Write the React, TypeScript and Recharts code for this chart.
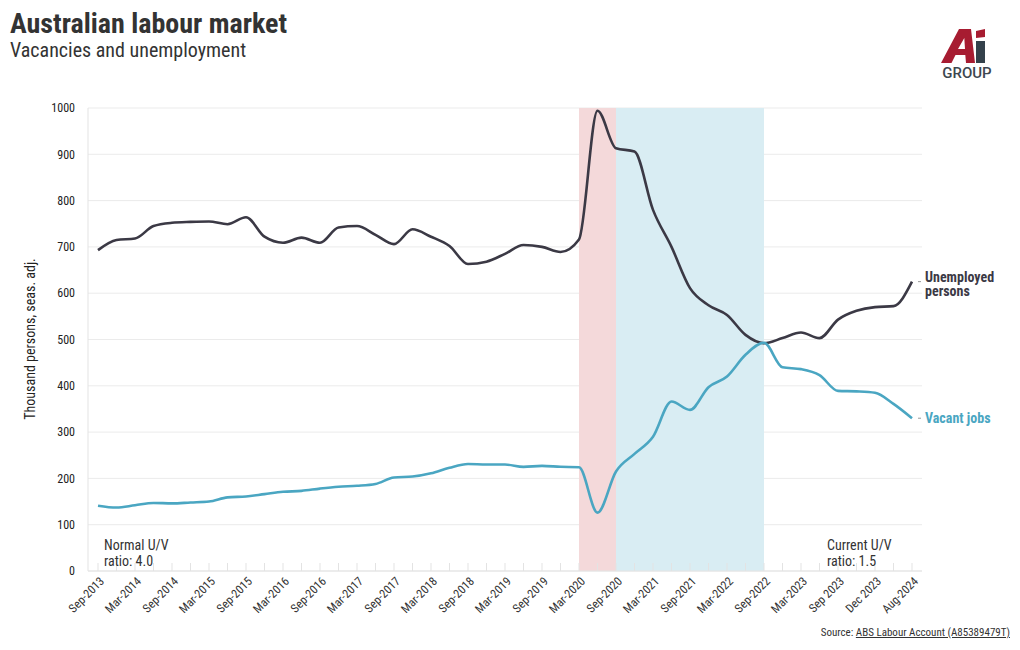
import {
  LineChart,
  Line,
  XAxis,
  YAxis,
  CartesianGrid,
  ReferenceArea,
} from 'recharts';

const QUARTERS = [
  'Sep-2013', 'Dec-2013',
  'Mar-2014', 'Jun-2014', 'Sep-2014', 'Dec-2014',
  'Mar-2015', 'Jun-2015', 'Sep-2015', 'Dec-2015',
  'Mar-2016', 'Jun-2016', 'Sep-2016', 'Dec-2016',
  'Mar-2017', 'Jun-2017', 'Sep-2017', 'Dec-2017',
  'Mar-2018', 'Jun-2018', 'Sep-2018', 'Dec-2018',
  'Mar-2019', 'Jun-2019', 'Sep-2019', 'Dec-2019',
  'Mar-2020', 'Jun-2020', 'Sep-2020', 'Dec-2020',
  'Mar-2021', 'Jun-2021', 'Sep-2021', 'Dec-2021',
  'Mar-2022', 'Jun-2022', 'Sep-2022', 'Dec-2022',
  'Mar-2023', 'Jun-2023', 'Sep-2023', 'Dec-2023',
  'Mar-2024', 'Jun-2024', 'Aug-2024',
];

// labels shown under every second quarter (as printed on the original)
const TICK_LABELS = [
  'Sep-2013', 'Mar-2014', 'Sep-2014', 'Mar-2015', 'Sep-2015', 'Mar-2016',
  'Sep-2016', 'Mar-2017', 'Sep-2017', 'Mar-2018', 'Sep-2018', 'Mar-2019',
  'Sep-2019', 'Mar-2020', 'Sep-2020', 'Mar-2021', 'Sep-2021', 'Mar-2022',
  'Sep-2022', 'Mar-2023', 'Sep 2023', 'Dec 2023', 'Aug-2024',
];

// thousand persons
const UNEMPLOYED = [
  693, 715, 718, 745, 752, 754, 755, 749, 764, 722, 709, 720, 709, 742, 745,
  726, 706, 738, 722, 702, 663, 668, 685, 704, 700, 689, 716, 994, 913, 906,
  780, 700, 611, 574, 553, 510, 492, 503, 515, 503, 543, 562, 570, 572, 625,
];

const VACANCIES = [
  141, 137, 142, 147, 146, 148, 150, 159, 161, 166, 171, 173, 178, 182, 184,
  188, 202, 204, 211, 223, 231, 230, 230, 225, 227, 225, 224, 126, 215, 253,
  290, 366, 348, 397, 420, 467, 493, 440, 436, 423, 389, 388, 385, 361, 330,
];

const Y_TICKS = [0, 100, 200, 300, 400, 500, 600, 700, 800, 900, 1000];

const FONT = "'Roboto Condensed', 'Liberation Sans Narrow', 'DejaVu Sans Condensed', Roboto, sans-serif";
const DARK = '#3b3945';
const TEAL = '#4aa6c2';

const data = QUARTERS.map((q, i) => ({
  quarter: q,
  unemployed: UNEMPLOYED[i],
  vacancies: VACANCIES[i],
}));

function XTick(props: any) {
  const { x, y, index } = props;
  const label = index % 2 === 0 ? TICK_LABELS[index / 2] : null;
  return (
    <g>
      <line x1={x} x2={x} y1={y} y2={y - 8} stroke="#e3e3e3" />
      {label && (
        <text
          x={x + 4}
          y={y + 8}
          dy="0.35em"
          textAnchor="end"
          fontSize={12}
          fill="#333"
          fontFamily={FONT}
          transform={`rotate(-45, ${x + 4}, ${y + 8})`}
        >
          {label}
        </text>
      )}
    </g>
  );
}

function EndLabel(props: any) {
  const { x, y, index, lines, color, dy } = props;
  if (index !== QUARTERS.length - 1) return null;
  return (
    <g>
      <line x1={x + 6} x2={x + 9} y1={y} y2={y} stroke="#999" />
      <text x={x + 13} y={y + dy} fontSize={14} fontWeight={700} fill={color} fontFamily={FONT}>
        {lines.map((l: string, i: number) => (
          <tspan key={i} x={x + 13} dy={i === 0 ? 0 : 14}>
            {l}
          </tspan>
        ))}
      </text>
    </g>
  );
}

function Logo() {
  return (
    <svg width={64} height={58} style={{ position: 'absolute', left: 928, top: 18 }}>
      <path
        d="M5,37 L23,3 L35,3 L39,37 L30,37 L29.3,29 L19.5,29 L15.5,37 Z M22,23 L29,23 L28.3,12 Z"
        fill="#a71c31"
        fillRule="evenodd"
      />
      <rect x={40} y={15} width={9} height={22} fill="#34414b" />
      <path d="M40,5 L49,3 L49,11 L40,12 Z" fill="#a71c31" />
      <text x={31} y={52} fontSize={15} fontWeight={500} fill="#3d4750" textAnchor="middle" fontFamily="Roboto, sans-serif">
        GROUP
      </text>
    </svg>
  );
}

export default function App() {
  const note = {
    position: 'absolute' as const,
    fontSize: 14,
    lineHeight: '16px',
    color: '#333',
  };
  return (
    <div style={{ position: 'relative', width: 1004, height: 640, fontFamily: FONT, background: '#fff' }}>
      <div style={{ position: 'absolute', left: 2, top: 0, fontSize: 28, fontWeight: 700, color: '#333', lineHeight: '32px' }}>
        Australian labour market
      </div>
      <div style={{ position: 'absolute', left: 2, top: 30, fontSize: 20, color: '#333', lineHeight: '24px' }}>
        Vacancies and unemployment
      </div>
      <Logo />

      <LineChart
        width={1004}
        height={640}
        data={data}
        margin={{ top: 100, right: 90, left: 30, bottom: 17 }}
      >
        <CartesianGrid vertical={false} stroke="#ebebeb" />
        <ReferenceArea x1="Mar-2020" x2="Sep-2020" fill="#f4d9da" fillOpacity={1} stroke="none" ifOverflow="visible" />
        <ReferenceArea x1="Sep-2020" x2="Sep-2022" fill="#d9edf3" fillOpacity={1} stroke="none" ifOverflow="visible" />
        <XAxis
          dataKey="quarter"
          interval={0}
          height={60}
          padding={{ left: 10, right: 10 }}
          tickLine={false}
          tickSize={0}
          tickMargin={0}
          axisLine={{ stroke: '#e3e3e3' }}
          tick={<XTick />}
        />
        <YAxis
          width={50}
          domain={[0, 1000]}
          ticks={Y_TICKS}
          interval={0}
          tickLine={false}
          tickSize={0}
          tickMargin={13}
          axisLine={{ stroke: '#e3e3e3' }}
          tick={{ fontSize: 12, fill: '#222', fontFamily: FONT }}
        />
        <Line
          type="monotone"
          dataKey="unemployed"
          stroke={DARK}
          strokeWidth={2.6}
          dot={false}
          isAnimationActive={false}
          label={<EndLabel lines={['Unemployed', 'persons']} color={DARK} dy={0} />}
        />
        <Line
          type="monotone"
          dataKey="vacancies"
          stroke={TEAL}
          strokeWidth={2.6}
          dot={false}
          isAnimationActive={false}
          label={<EndLabel lines={['Vacant jobs']} color={TEAL} dy={5} />}
        />
      </LineChart>

      <div
        style={{
          position: 'absolute',
          left: 22,
          top: 331,
          transform: 'translate(-50%, -50%) rotate(-90deg)',
          whiteSpace: 'nowrap',
          fontSize: 14,
          color: '#222',
        }}
      >
        Thousand persons, seas. adj.
      </div>
      <div style={{ ...note, left: 96, top: 529 }}>
        Normal U/V
        <br />
        ratio: 4.0
      </div>
      <div style={{ ...note, left: 819, top: 529 }}>
        Current U/V
        <br />
        ratio: 1.5
      </div>
      <div style={{ position: 'absolute', right: 2, top: 618, fontSize: 11, color: '#333', whiteSpace: 'nowrap' }}>
        Source: <span style={{ textDecoration: 'underline' }}>ABS Labour Account (A85389479T)</span>
      </div>
    </div>
  );
}
